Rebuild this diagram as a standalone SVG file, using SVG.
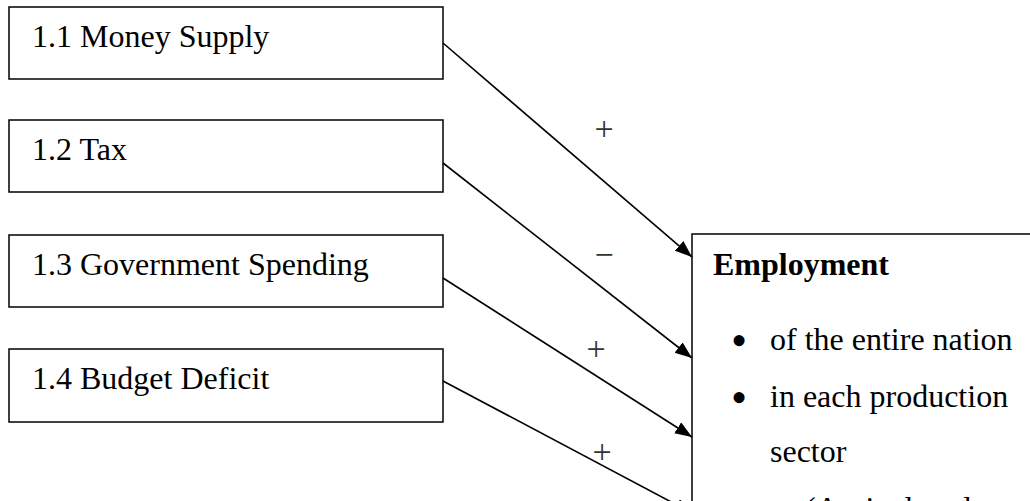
<svg xmlns="http://www.w3.org/2000/svg" width="1030" height="501" viewBox="0 0 1030 501">
  <style>
    .box { fill: #fff; stroke: #000; stroke-width: 1.5; }
    .lbl { font-family: "Liberation Serif", "Times New Roman", serif; font-size: 32px; fill: #000; }
    .bul { font-family: "Liberation Serif", "Times New Roman", serif; font-size: 46px; fill: #000; text-anchor: middle; }
    .sign { font-family: "Liberation Serif", "Times New Roman", serif; font-size: 34px; fill: #333; text-anchor: middle; }
    .conn { stroke: #000; stroke-width: 1.6; fill: none; marker-end: url(#arr); }
  </style>
  <defs>
    <marker id="arr" markerUnits="userSpaceOnUse" markerWidth="18" markerHeight="14" refX="17" refY="6.5" orient="auto">
      <path d="M0,0 L17,6.5 L0,13 z" fill="#000"/>
    </marker>
  </defs>
  <rect width="1030" height="501" fill="#fff"/>

  <g id="node-money">
    <rect class="box" x="9" y="7" width="434" height="72"/>
    <text class="lbl" x="32" y="47">1.1 Money Supply</text>
  </g>
  <g id="node-tax">
    <rect class="box" x="9" y="120" width="434" height="72"/>
    <text class="lbl" x="32" y="160">1.2 Tax</text>
  </g>
  <g id="node-spending">
    <rect class="box" x="9" y="235" width="434" height="72"/>
    <text class="lbl" x="32" y="275">1.3 Government Spending</text>
  </g>
  <g id="node-deficit">
    <rect class="box" x="9" y="349" width="434" height="73"/>
    <text class="lbl" x="32" y="389">1.4 Budget Deficit</text>
  </g>

  <g id="node-employment">
    <rect class="box" x="692" y="234" width="400" height="400"/>
    <text class="lbl" x="713" y="275" font-weight="bold">Employment</text>
    <text class="bul" x="739" y="356">•</text>
    <text class="lbl" x="770" y="350">of the entire nation</text>
    <text class="bul" x="739" y="413">•</text>
    <text class="lbl" x="770" y="407">in each production</text>
    <text class="lbl" x="770" y="462">sector</text>
    <text class="lbl" x="805" y="519">(Agricultural</text>
  </g>

  <g id="connectors">
    <line class="conn" x1="443" y1="43" x2="692" y2="257"/>
    <line class="conn" x1="443" y1="163" x2="692" y2="358"/>
    <line class="conn" x1="443" y1="278" x2="692" y2="437"/>
    <line class="conn" x1="443" y1="381" x2="692" y2="513"/>
    <text class="sign" x="604" y="140">+</text>
    <text class="sign" x="604" y="266">−</text>
    <text class="sign" x="596" y="360">+</text>
    <text class="sign" x="602" y="463">+</text>
  </g>
</svg>
